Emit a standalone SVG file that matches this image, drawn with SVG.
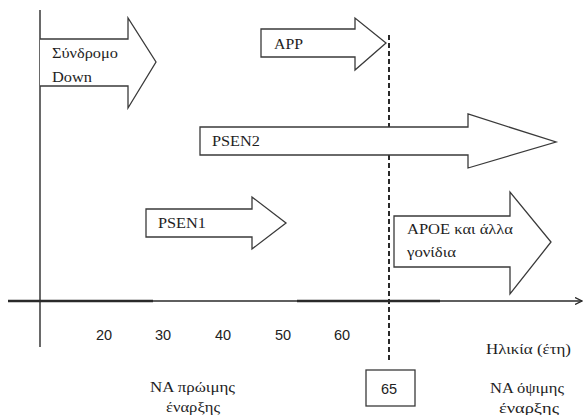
<svg xmlns="http://www.w3.org/2000/svg" width="584" height="415" viewBox="0 0 584 415">
<defs>
<style>
.arr{fill:#fff;stroke:#3a3a3a;stroke-width:1.3;stroke-linejoin:miter}
.sr{font-family:"Liberation Serif","Times New Roman",serif;font-size:15px;fill:#1e1e1e}
.ss{font-family:"Liberation Sans",Arial,sans-serif;font-size:14.5px;fill:#222;text-anchor:middle}
.ax{stroke:#2a2a2a;fill:none}
</style>
<marker id="ah" markerWidth="8" markerHeight="8" refX="7" refY="4" orient="auto" markerUnits="userSpaceOnUse">
<path d="M0,0.5 L7,4 L0,7.5" fill="none" stroke="#2a2a2a" stroke-width="1.3"/>
</marker>
</defs>
<rect width="584" height="415" fill="#fff"/>
<g id="connectors">
<line class="ax" x1="40" y1="10" x2="40" y2="347" stroke-width="1.4"/>
<line class="ax" x1="8" y1="301" x2="582" y2="301" stroke-width="1.4" marker-end="url(#ah)"/>
<line class="ax" x1="8" y1="301" x2="153" y2="301" stroke-width="2.6"/>
<line class="ax" x1="297" y1="301" x2="440" y2="301" stroke-width="2.6"/>
<line class="ax" x1="389" y1="35" x2="389" y2="363" stroke-width="2" stroke-dasharray="5,3" stroke="#111"/>
</g>
<g id="down">
<path class="arr" d="M40,39 H128 V18 L156,62 L128,108 V86 H40"/>
<text class="sr" x="52" y="58" textLength="66" lengthAdjust="spacingAndGlyphs">Σύνδρομο</text>
<text class="sr" x="52" y="82" textLength="40" lengthAdjust="spacingAndGlyphs">Down</text>
</g>
<g id="app">
<path class="arr" d="M261,29 H355 V18 L386,43 L355,70 V57 H261 Z"/>
<text class="sr" x="274" y="49" textLength="29" lengthAdjust="spacingAndGlyphs">APP</text>
</g>
<g id="psen2">
<path class="arr" d="M200,127 H468 V114 L556,142 L468,168 V155 H200 Z"/>
<text class="sr" x="212" y="146" textLength="48" lengthAdjust="spacingAndGlyphs">PSEN2</text>
</g>
<g id="psen1">
<path class="arr" d="M146,209 H252 V197 L286,223 L252,249 V237 H146 Z"/>
<text class="sr" x="158" y="228" textLength="48" lengthAdjust="spacingAndGlyphs">PSEN1</text>
</g>
<g id="apoe">
<path class="arr" d="M394,216 H510 V192 L551,242 L510,294 V267 H394 Z"/>
<text class="sr" x="407" y="234" textLength="106" lengthAdjust="spacingAndGlyphs">APOE και άλλα</text>
<text class="sr" x="407" y="257" textLength="49" lengthAdjust="spacingAndGlyphs">γονίδια</text>
</g>
<g id="ticks">
<text class="ss" x="104" y="340">20</text>
<text class="ss" x="163" y="340">30</text>
<text class="ss" x="223" y="340">40</text>
<text class="ss" x="283" y="340">50</text>
<text class="ss" x="342" y="340">60</text>
</g>
<g id="axis-label">
<text class="sr" x="486" y="354" textLength="85" lengthAdjust="spacingAndGlyphs">Ηλικία (έτη)</text>
</g>
<g id="age65">
<rect x="366" y="370" width="49" height="36" fill="#fff" stroke="#3a3a3a" stroke-width="1.3"/>
<text class="ss" x="389" y="394">65</text>
</g>
<g id="early">
<text class="sr" x="150" y="392" textLength="85" lengthAdjust="spacingAndGlyphs">ΝΑ πρώιμης</text>
<text class="sr" x="166" y="412" textLength="54" lengthAdjust="spacingAndGlyphs">έναρξης</text>
</g>
<g id="late">
<text class="sr" x="490" y="393" textLength="74" lengthAdjust="spacingAndGlyphs">ΝΑ όψιμης</text>
<text class="sr" x="499" y="413" textLength="60" lengthAdjust="spacingAndGlyphs">έναρξης</text>
</g>
</svg>
